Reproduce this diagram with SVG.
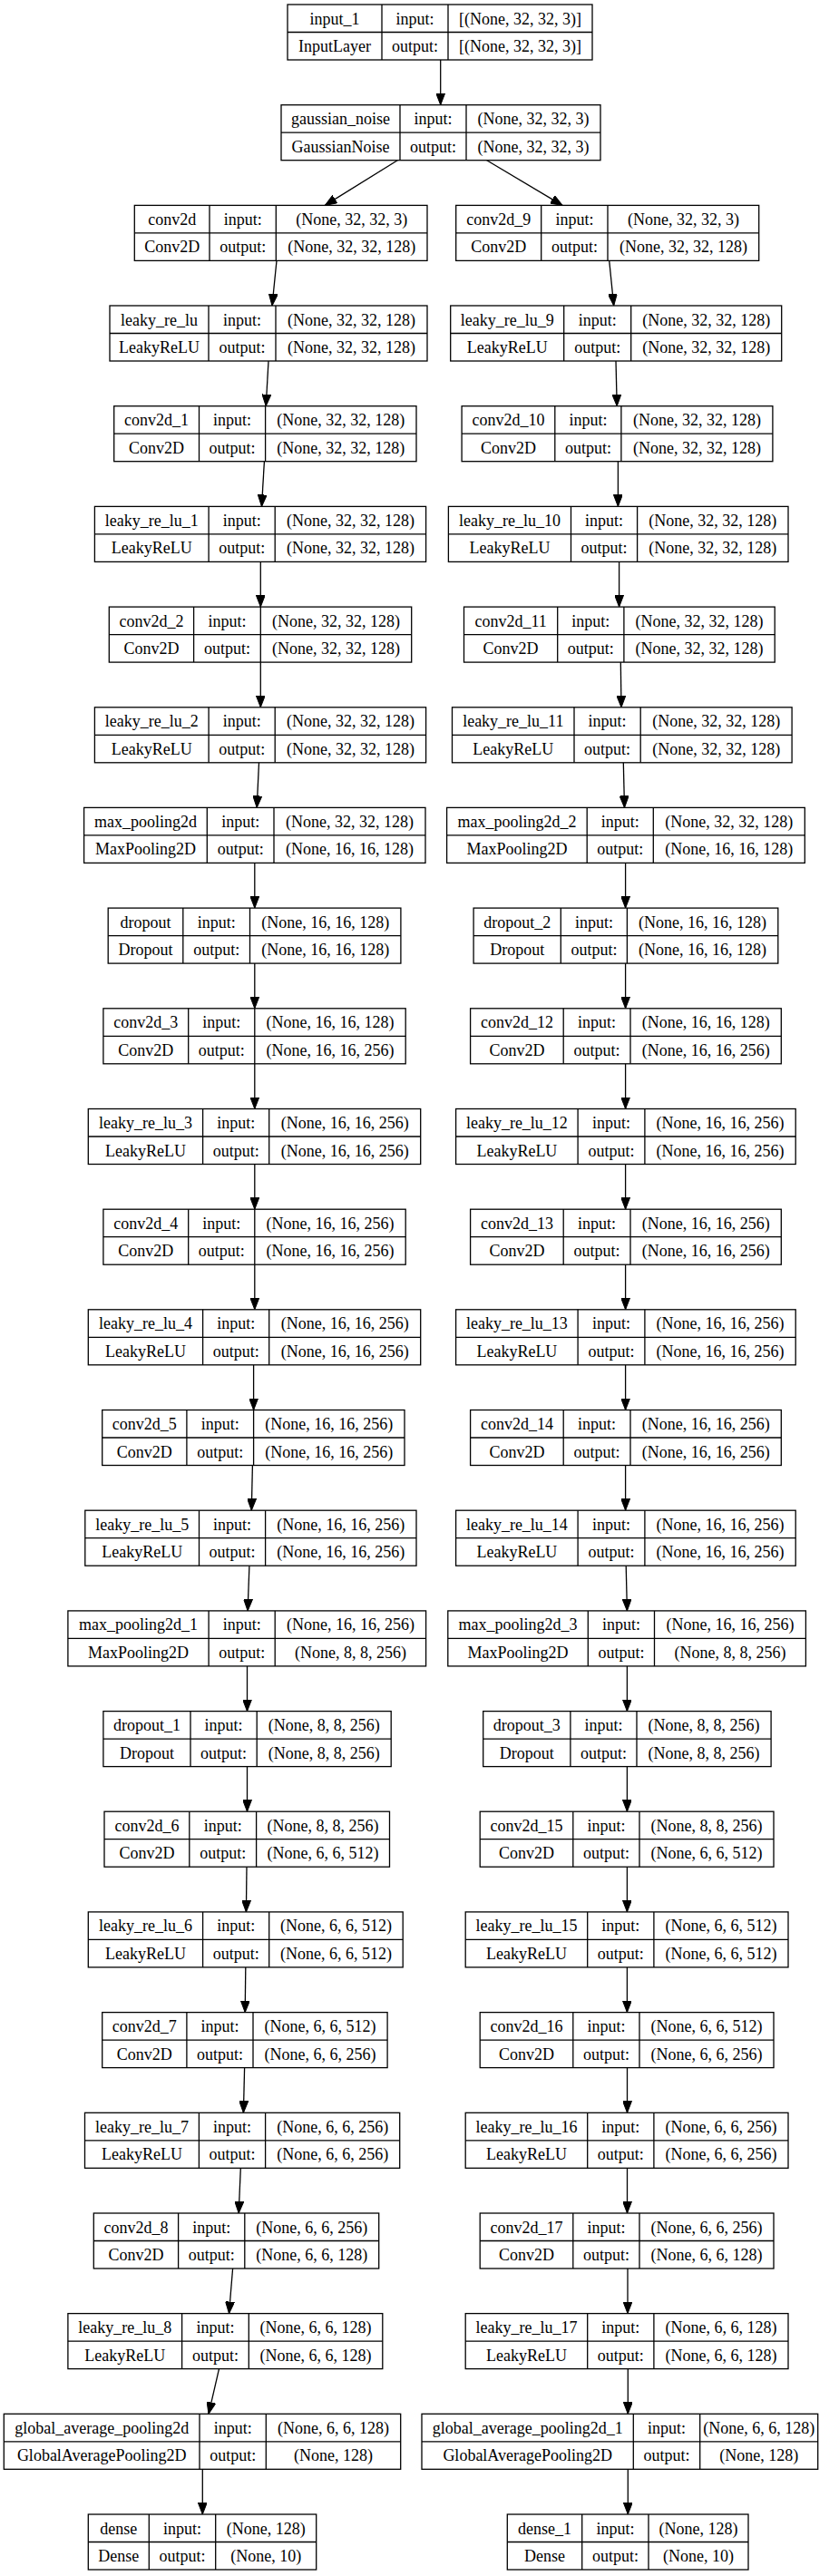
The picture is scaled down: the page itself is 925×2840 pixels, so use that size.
<svg xmlns="http://www.w3.org/2000/svg" width="925" height="2840" viewBox="0 0 925 2840">
<style>
.node rect{fill:#fff;stroke:#000;stroke-width:1.3}
.node path{fill:none;stroke:#000;stroke-width:1.3}
.node text{font-family:"Liberation Serif","Times New Roman",serif;font-size:18px;text-anchor:middle;fill:#000}
#edges path{fill:none;stroke:#000;stroke-width:1.3;marker-end:url(#arr)}
</style>
<defs>
<marker id="arr" markerUnits="userSpaceOnUse" markerWidth="13" markerHeight="10" viewBox="0 0 13 10" refX="13" refY="5" orient="auto"><path d="M0,0 L13,5 L0,10 z" fill="#000" stroke="#000" stroke-width="1"/></marker>
</defs>
<rect width="925" height="2840" fill="#fff"/>
<g id="edges">
<path d="M485.7 66 L485.7 115.7"/>
<path d="M438.3 176.7 L358.3 226.4"/>
<path d="M536.7 176.7 L620 226.4"/>
<path d="M305 287.4 L300 337"/>
<path d="M296 398 L293.2 447.7"/>
<path d="M291.4 508.7 L288.5 558.4"/>
<path d="M287.3 619.4 L287.3 669.1"/>
<path d="M287.3 730.1 L287.3 779.8"/>
<path d="M285.5 840.8 L283.2 890.4"/>
<path d="M280.8 951.4 L280.8 1001.1"/>
<path d="M280.8 1062.1 L280.8 1111.8"/>
<path d="M280.8 1172.8 L280.8 1222.5"/>
<path d="M280.8 1283.5 L280.8 1333.2"/>
<path d="M280.8 1394.2 L280.8 1443.8"/>
<path d="M279.6 1504.8 L279.6 1554.5"/>
<path d="M278.4 1615.5 L277.3 1665.2"/>
<path d="M274.9 1726.2 L273.1 1775.9"/>
<path d="M272.5 1836.9 L272.5 1886.6"/>
<path d="M272.5 1947.6 L272.5 1997.2"/>
<path d="M272 2058.2 L271.4 2107.9"/>
<path d="M270.8 2168.9 L270.2 2218.6"/>
<path d="M269.6 2279.6 L268.4 2329.3"/>
<path d="M265.3 2390.3 L263.2 2440"/>
<path d="M256.6 2501 L252.5 2550.6"/>
<path d="M241.5 2611.6 L230 2661.3"/>
<path d="M223.3 2722.3 L223.3 2772"/>
<path d="M671.7 287.4 L676.7 337"/>
<path d="M679 398 L680.2 447.7"/>
<path d="M681.4 508.7 L681.4 558.4"/>
<path d="M682.6 619.4 L682.6 669.1"/>
<path d="M684.3 730.1 L685 779.8"/>
<path d="M687.3 840.8 L688.5 890.4"/>
<path d="M689.6 951.4 L689.6 1001.1"/>
<path d="M689.6 1062.1 L689.6 1111.8"/>
<path d="M689.6 1172.8 L689.6 1222.5"/>
<path d="M689.6 1283.5 L689.6 1333.2"/>
<path d="M689.6 1394.2 L689.6 1443.8"/>
<path d="M689.6 1504.8 L689.6 1554.5"/>
<path d="M689.6 1615.5 L689.6 1665.2"/>
<path d="M690.2 1726.2 L691.4 1775.9"/>
<path d="M691.4 1836.9 L691.4 1886.6"/>
<path d="M691.4 1947.6 L691.4 1997.2"/>
<path d="M691.4 2058.2 L691.4 2107.9"/>
<path d="M691.4 2168.9 L691.4 2218.6"/>
<path d="M691.5 2279.6 L691.5 2329.3"/>
<path d="M691.5 2390.3 L691.5 2440"/>
<path d="M692 2501 L692 2550.6"/>
<path d="M692.3 2611.6 L692.3 2661.3"/>
<path d="M692.3 2722.3 L692.3 2772"/>
</g>

<g id="input_1" class="node"><rect x="317" y="5" width="336" height="61"/><path d="M317 35.5H653M421 5V66M494 5V66"/>
<text x="369" y="26.5">input_1</text><text x="457.5" y="26.5">input:</text><text x="573.5" y="26.5">[(None, 32, 32, 3)]</text>
<text x="369" y="57">InputLayer</text><text x="457.5" y="57">output:</text><text x="573.5" y="57">[(None, 32, 32, 3)]</text></g>

<g id="gaussian_noise" class="node"><rect x="310" y="115.7" width="352" height="61"/><path d="M310 146.2H662M441 115.7V176.7M514 115.7V176.7"/>
<text x="375.5" y="137.2">gaussian_noise</text><text x="477.5" y="137.2">input:</text><text x="588" y="137.2">(None, 32, 32, 3)</text>
<text x="375.5" y="167.7">GaussianNoise</text><text x="477.5" y="167.7">output:</text><text x="588" y="167.7">(None, 32, 32, 3)</text></g>

<g id="conv2d" class="node"><rect x="148.3" y="226.4" width="322.7" height="61"/><path d="M148.3 256.9H471M231 226.4V287.4M304.3 226.4V287.4"/>
<text x="189.7" y="247.9">conv2d</text><text x="267.7" y="247.9">input:</text><text x="387.7" y="247.9">(None, 32, 32, 3)</text>
<text x="189.7" y="278.4">Conv2D</text><text x="267.7" y="278.4">output:</text><text x="387.7" y="278.4">(None, 32, 32, 128)</text></g>

<g id="leaky_re_lu" class="node"><rect x="121" y="337" width="350" height="61"/><path d="M121 367.5H471M230 337V398M304 337V398"/>
<text x="175.5" y="358.5">leaky_re_lu</text><text x="267" y="358.5">input:</text><text x="387.5" y="358.5">(None, 32, 32, 128)</text>
<text x="175.5" y="389">LeakyReLU</text><text x="267" y="389">output:</text><text x="387.5" y="389">(None, 32, 32, 128)</text></g>

<g id="conv2d_1" class="node"><rect x="125.7" y="447.7" width="333.3" height="61"/><path d="M125.7 478.2H459M219.5 447.7V508.7M292.6 447.7V508.7"/>
<text x="172.6" y="469.2">conv2d_1</text><text x="256.1" y="469.2">input:</text><text x="375.8" y="469.2">(None, 32, 32, 128)</text>
<text x="172.6" y="499.7">Conv2D</text><text x="256.1" y="499.7">output:</text><text x="375.8" y="499.7">(None, 32, 32, 128)</text></g>

<g id="leaky_re_lu_1" class="node"><rect x="104.4" y="558.4" width="365.2" height="61"/><path d="M104.4 588.9H469.6M230.1 558.4V619.4M303.2 558.4V619.4"/>
<text x="167.3" y="579.9">leaky_re_lu_1</text><text x="266.7" y="579.9">input:</text><text x="386.4" y="579.9">(None, 32, 32, 128)</text>
<text x="167.3" y="610.4">LeakyReLU</text><text x="266.7" y="610.4">output:</text><text x="386.4" y="610.4">(None, 32, 32, 128)</text></g>

<g id="conv2d_2" class="node"><rect x="120.3" y="669.1" width="333.4" height="61"/><path d="M120.3 699.6H453.7M213.6 669.1V730.1M287.3 669.1V730.1"/>
<text x="167" y="690.6">conv2d_2</text><text x="250.5" y="690.6">input:</text><text x="370.5" y="690.6">(None, 32, 32, 128)</text>
<text x="167" y="721.1">Conv2D</text><text x="250.5" y="721.1">output:</text><text x="370.5" y="721.1">(None, 32, 32, 128)</text></g>

<g id="leaky_re_lu_2" class="node"><rect x="104.4" y="779.8" width="365.2" height="61"/><path d="M104.4 810.3H469.6M230.1 779.8V840.8M303.2 779.8V840.8"/>
<text x="167.3" y="801.3">leaky_re_lu_2</text><text x="266.7" y="801.3">input:</text><text x="386.4" y="801.3">(None, 32, 32, 128)</text>
<text x="167.3" y="831.8">LeakyReLU</text><text x="266.7" y="831.8">output:</text><text x="386.4" y="831.8">(None, 32, 32, 128)</text></g>

<g id="max_pooling2d" class="node"><rect x="92.6" y="890.4" width="376.4" height="61"/><path d="M92.6 920.9H469M228.3 890.4V951.4M302 890.4V951.4"/>
<text x="160.5" y="911.9">max_pooling2d</text><text x="265.2" y="911.9">input:</text><text x="385.5" y="911.9">(None, 32, 32, 128)</text>
<text x="160.5" y="942.4">MaxPooling2D</text><text x="265.2" y="942.4">output:</text><text x="385.5" y="942.4">(None, 16, 16, 128)</text></g>

<g id="dropout" class="node"><rect x="119.2" y="1001.1" width="322.7" height="61"/><path d="M119.2 1031.6H441.9M201.8 1001.1V1062.1M275.5 1001.1V1062.1"/>
<text x="160.5" y="1022.6">dropout</text><text x="238.7" y="1022.6">input:</text><text x="358.7" y="1022.6">(None, 16, 16, 128)</text>
<text x="160.5" y="1053.1">Dropout</text><text x="238.7" y="1053.1">output:</text><text x="358.7" y="1053.1">(None, 16, 16, 128)</text></g>

<g id="conv2d_3" class="node"><rect x="113.9" y="1111.8" width="333.3" height="61"/><path d="M113.9 1142.3H447.2M207.7 1111.8V1172.8M280.8 1111.8V1172.8"/>
<text x="160.8" y="1133.3">conv2d_3</text><text x="244.3" y="1133.3">input:</text><text x="364" y="1133.3">(None, 16, 16, 128)</text>
<text x="160.8" y="1163.8">Conv2D</text><text x="244.3" y="1163.8">output:</text><text x="364" y="1163.8">(None, 16, 16, 256)</text></g>

<g id="leaky_re_lu_3" class="node"><rect x="97.3" y="1222.5" width="366.4" height="61"/><path d="M97.3 1253H463.7M223.6 1222.5V1283.5M296.7 1222.5V1283.5"/>
<text x="160.5" y="1244">leaky_re_lu_3</text><text x="260.2" y="1244">input:</text><text x="380.2" y="1244">(None, 16, 16, 256)</text>
<text x="160.5" y="1274.5">LeakyReLU</text><text x="260.2" y="1274.5">output:</text><text x="380.2" y="1274.5">(None, 16, 16, 256)</text></g>

<g id="conv2d_4" class="node"><rect x="113.9" y="1333.2" width="333.3" height="61"/><path d="M113.9 1363.7H447.2M207.7 1333.2V1394.2M280.8 1333.2V1394.2"/>
<text x="160.8" y="1354.7">conv2d_4</text><text x="244.3" y="1354.7">input:</text><text x="364" y="1354.7">(None, 16, 16, 256)</text>
<text x="160.8" y="1385.2">Conv2D</text><text x="244.3" y="1385.2">output:</text><text x="364" y="1385.2">(None, 16, 16, 256)</text></g>

<g id="leaky_re_lu_4" class="node"><rect x="97.3" y="1443.8" width="366.4" height="61"/><path d="M97.3 1474.3H463.7M223.6 1443.8V1504.8M296.7 1443.8V1504.8"/>
<text x="160.5" y="1465.3">leaky_re_lu_4</text><text x="260.2" y="1465.3">input:</text><text x="380.2" y="1465.3">(None, 16, 16, 256)</text>
<text x="160.5" y="1495.8">LeakyReLU</text><text x="260.2" y="1495.8">output:</text><text x="380.2" y="1495.8">(None, 16, 16, 256)</text></g>

<g id="conv2d_5" class="node"><rect x="112.7" y="1554.5" width="333.3" height="61"/><path d="M112.7 1585H446M205.9 1554.5V1615.5M279.6 1554.5V1615.5"/>
<text x="159.3" y="1576">conv2d_5</text><text x="242.8" y="1576">input:</text><text x="362.8" y="1576">(None, 16, 16, 256)</text>
<text x="159.3" y="1606.5">Conv2D</text><text x="242.8" y="1606.5">output:</text><text x="362.8" y="1606.5">(None, 16, 16, 256)</text></g>

<g id="leaky_re_lu_5" class="node"><rect x="93.8" y="1665.2" width="365.2" height="61"/><path d="M93.8 1695.7H459M219.5 1665.2V1726.2M292.6 1665.2V1726.2"/>
<text x="156.7" y="1686.7">leaky_re_lu_5</text><text x="256.1" y="1686.7">input:</text><text x="375.8" y="1686.7">(None, 16, 16, 256)</text>
<text x="156.7" y="1717.2">LeakyReLU</text><text x="256.1" y="1717.2">output:</text><text x="375.8" y="1717.2">(None, 16, 16, 256)</text></g>

<g id="max_pooling2d_1" class="node"><rect x="74.9" y="1775.9" width="394.7" height="61"/><path d="M74.9 1806.4H469.6M230.1 1775.9V1836.9M303.2 1775.9V1836.9"/>
<text x="152.5" y="1797.4">max_pooling2d_1</text><text x="266.7" y="1797.4">input:</text><text x="386.4" y="1797.4">(None, 16, 16, 256)</text>
<text x="152.5" y="1827.9">MaxPooling2D</text><text x="266.7" y="1827.9">output:</text><text x="386.4" y="1827.9">(None, 8, 8, 256)</text></g>

<g id="dropout_1" class="node"><rect x="113.9" y="1886.6" width="317.3" height="61"/><path d="M113.9 1917.1H431.2M210 1886.6V1947.6M283.2 1886.6V1947.6"/>
<text x="162" y="1908.1">dropout_1</text><text x="246.6" y="1908.1">input:</text><text x="357.2" y="1908.1">(None, 8, 8, 256)</text>
<text x="162" y="1938.6">Dropout</text><text x="246.6" y="1938.6">output:</text><text x="357.2" y="1938.6">(None, 8, 8, 256)</text></g>

<g id="conv2d_6" class="node"><rect x="115" y="1997.2" width="314.5" height="61"/><path d="M115 2027.7H429.5M208.8 1997.2V2058.2M282.6 1997.2V2058.2"/>
<text x="161.9" y="2018.7">conv2d_6</text><text x="245.7" y="2018.7">input:</text><text x="356" y="2018.7">(None, 8, 8, 256)</text>
<text x="161.9" y="2049.2">Conv2D</text><text x="245.7" y="2049.2">output:</text><text x="356" y="2049.2">(None, 6, 6, 512)</text></g>

<g id="leaky_re_lu_6" class="node"><rect x="97.3" y="2107.9" width="346.9" height="61"/><path d="M97.3 2138.4H444.2M223.6 2107.9V2168.9M296.7 2107.9V2168.9"/>
<text x="160.5" y="2129.4">leaky_re_lu_6</text><text x="260.2" y="2129.4">input:</text><text x="370.5" y="2129.4">(None, 6, 6, 512)</text>
<text x="160.5" y="2159.9">LeakyReLU</text><text x="260.2" y="2159.9">output:</text><text x="370.5" y="2159.9">(None, 6, 6, 512)</text></g>

<g id="conv2d_7" class="node"><rect x="112.7" y="2218.6" width="314.4" height="61"/><path d="M112.7 2249.1H427.1M205.9 2218.6V2279.6M279 2218.6V2279.6"/>
<text x="159.3" y="2240.1">conv2d_7</text><text x="242.5" y="2240.1">input:</text><text x="353.1" y="2240.1">(None, 6, 6, 512)</text>
<text x="159.3" y="2270.6">Conv2D</text><text x="242.5" y="2270.6">output:</text><text x="353.1" y="2270.6">(None, 6, 6, 256)</text></g>

<g id="leaky_re_lu_7" class="node"><rect x="93.5" y="2329.3" width="347.2" height="61"/><path d="M93.5 2359.8H440.7M219.4 2329.3V2390.3M292.6 2329.3V2390.3"/>
<text x="156.5" y="2350.8">leaky_re_lu_7</text><text x="256" y="2350.8">input:</text><text x="366.7" y="2350.8">(None, 6, 6, 256)</text>
<text x="156.5" y="2381.3">LeakyReLU</text><text x="256" y="2381.3">output:</text><text x="366.7" y="2381.3">(None, 6, 6, 256)</text></g>

<g id="conv2d_8" class="node"><rect x="103.3" y="2440" width="314.4" height="61"/><path d="M103.3 2470.5H417.7M196.6 2440V2501M269.8 2440V2501"/>
<text x="150" y="2461.5">conv2d_8</text><text x="233.2" y="2461.5">input:</text><text x="343.8" y="2461.5">(None, 6, 6, 256)</text>
<text x="150" y="2492">Conv2D</text><text x="233.2" y="2492">output:</text><text x="343.8" y="2492">(None, 6, 6, 128)</text></g>

<g id="leaky_re_lu_8" class="node"><rect x="74.9" y="2550.6" width="346.9" height="61"/><path d="M74.9 2581.1H421.8M200.6 2550.6V2611.6M274.3 2550.6V2611.6"/>
<text x="137.8" y="2572.1">leaky_re_lu_8</text><text x="237.5" y="2572.1">input:</text><text x="348.1" y="2572.1">(None, 6, 6, 128)</text>
<text x="137.8" y="2602.6">LeakyReLU</text><text x="237.5" y="2602.6">output:</text><text x="348.1" y="2602.6">(None, 6, 6, 128)</text></g>

<g id="global_average_pooling2d" class="node"><rect x="4.3" y="2661.3" width="437.4" height="61"/><path d="M4.3 2691.8H441.7M220 2661.3V2722.3M293.3 2661.3V2722.3"/>
<text x="112.2" y="2682.8">global_average_pooling2d</text><text x="256.7" y="2682.8">input:</text><text x="367.5" y="2682.8">(None, 6, 6, 128)</text>
<text x="112.2" y="2713.3">GlobalAveragePooling2D</text><text x="256.7" y="2713.3">output:</text><text x="367.5" y="2713.3">(None, 128)</text></g>

<g id="dense" class="node"><rect x="97.3" y="2772" width="251.4" height="61"/><path d="M97.3 2802.5H348.7M164.3 2772V2833M237.7 2772V2833"/>
<text x="130.8" y="2793.5">dense</text><text x="201" y="2793.5">input:</text><text x="293.2" y="2793.5">(None, 128)</text>
<text x="130.8" y="2824">Dense</text><text x="201" y="2824">output:</text><text x="293.2" y="2824">(None, 10)</text></g>

<g id="conv2d_9" class="node"><rect x="502.7" y="226.4" width="334" height="61"/><path d="M502.7 256.9H836.7M596.7 226.4V287.4M670 226.4V287.4"/>
<text x="549.7" y="247.9">conv2d_9</text><text x="633.4" y="247.9">input:</text><text x="753.4" y="247.9">(None, 32, 32, 3)</text>
<text x="549.7" y="278.4">Conv2D</text><text x="633.4" y="278.4">output:</text><text x="753.4" y="278.4">(None, 32, 32, 128)</text></g>

<g id="leaky_re_lu_9" class="node"><rect x="496.7" y="337" width="365" height="61"/><path d="M496.7 367.5H861.7M621.7 337V398M695.7 337V398"/>
<text x="559.2" y="358.5">leaky_re_lu_9</text><text x="658.7" y="358.5">input:</text><text x="778.7" y="358.5">(None, 32, 32, 128)</text>
<text x="559.2" y="389">LeakyReLU</text><text x="658.7" y="389">output:</text><text x="778.7" y="389">(None, 32, 32, 128)</text></g>

<g id="conv2d_10" class="node"><rect x="509.1" y="447.7" width="342.8" height="61"/><path d="M509.1 478.2H851.9M611.8 447.7V508.7M684.9 447.7V508.7"/>
<text x="560.5" y="469.2">conv2d_10</text><text x="648.4" y="469.2">input:</text><text x="768.4" y="469.2">(None, 32, 32, 128)</text>
<text x="560.5" y="499.7">Conv2D</text><text x="648.4" y="499.7">output:</text><text x="768.4" y="499.7">(None, 32, 32, 128)</text></g>

<g id="leaky_re_lu_10" class="node"><rect x="494.4" y="558.4" width="374.6" height="61"/><path d="M494.4 588.9H869M629.5 558.4V619.4M702.6 558.4V619.4"/>
<text x="562" y="579.9">leaky_re_lu_10</text><text x="666.1" y="579.9">input:</text><text x="785.8" y="579.9">(None, 32, 32, 128)</text>
<text x="562" y="610.4">LeakyReLU</text><text x="666.1" y="610.4">output:</text><text x="785.8" y="610.4">(None, 32, 32, 128)</text></g>

<g id="conv2d_11" class="node"><rect x="511.5" y="669.1" width="342.7" height="61"/><path d="M511.5 699.6H854.2M614.7 669.1V730.1M687.9 669.1V730.1"/>
<text x="563.1" y="690.6">conv2d_11</text><text x="651.3" y="690.6">input:</text><text x="771.1" y="690.6">(None, 32, 32, 128)</text>
<text x="563.1" y="721.1">Conv2D</text><text x="651.3" y="721.1">output:</text><text x="771.1" y="721.1">(None, 32, 32, 128)</text></g>

<g id="leaky_re_lu_11" class="node"><rect x="498.5" y="779.8" width="374.6" height="61"/><path d="M498.5 810.3H873.1M633 779.8V840.8M706.2 779.8V840.8"/>
<text x="565.8" y="801.3">leaky_re_lu_11</text><text x="669.6" y="801.3">input:</text><text x="789.7" y="801.3">(None, 32, 32, 128)</text>
<text x="565.8" y="831.8">LeakyReLU</text><text x="669.6" y="831.8">output:</text><text x="789.7" y="831.8">(None, 32, 32, 128)</text></g>

<g id="max_pooling2d_2" class="node"><rect x="492.6" y="890.4" width="394.7" height="61"/><path d="M492.6 920.9H887.3M647.2 890.4V951.4M720.3 890.4V951.4"/>
<text x="569.9" y="911.9">max_pooling2d_2</text><text x="683.8" y="911.9">input:</text><text x="803.8" y="911.9">(None, 32, 32, 128)</text>
<text x="569.9" y="942.4">MaxPooling2D</text><text x="683.8" y="942.4">output:</text><text x="803.8" y="942.4">(None, 16, 16, 128)</text></g>

<g id="dropout_2" class="node"><rect x="522.1" y="1001.1" width="335.7" height="61"/><path d="M522.1 1031.6H857.8M618.3 1001.1V1062.1M691.4 1001.1V1062.1"/>
<text x="570.2" y="1022.6">dropout_2</text><text x="654.9" y="1022.6">input:</text><text x="774.6" y="1022.6">(None, 16, 16, 128)</text>
<text x="570.2" y="1053.1">Dropout</text><text x="654.9" y="1053.1">output:</text><text x="774.6" y="1053.1">(None, 16, 16, 128)</text></g>

<g id="conv2d_12" class="node"><rect x="518.6" y="1111.8" width="342.7" height="61"/><path d="M518.6 1142.3H861.3M621.2 1111.8V1172.8M695 1111.8V1172.8"/>
<text x="569.9" y="1133.3">conv2d_12</text><text x="658.1" y="1133.3">input:</text><text x="778.2" y="1133.3">(None, 16, 16, 128)</text>
<text x="569.9" y="1163.8">Conv2D</text><text x="658.1" y="1163.8">output:</text><text x="778.2" y="1163.8">(None, 16, 16, 256)</text></g>

<g id="leaky_re_lu_12" class="node"><rect x="502.6" y="1222.5" width="374.6" height="61"/><path d="M502.6 1253H877.2M637.1 1222.5V1283.5M710.9 1222.5V1283.5"/>
<text x="569.9" y="1244">leaky_re_lu_12</text><text x="674" y="1244">input:</text><text x="794.1" y="1244">(None, 16, 16, 256)</text>
<text x="569.9" y="1274.5">LeakyReLU</text><text x="674" y="1274.5">output:</text><text x="794.1" y="1274.5">(None, 16, 16, 256)</text></g>

<g id="conv2d_13" class="node"><rect x="518.6" y="1333.2" width="342.7" height="61"/><path d="M518.6 1363.7H861.3M621.2 1333.2V1394.2M695 1333.2V1394.2"/>
<text x="569.9" y="1354.7">conv2d_13</text><text x="658.1" y="1354.7">input:</text><text x="778.2" y="1354.7">(None, 16, 16, 256)</text>
<text x="569.9" y="1385.2">Conv2D</text><text x="658.1" y="1385.2">output:</text><text x="778.2" y="1385.2">(None, 16, 16, 256)</text></g>

<g id="leaky_re_lu_13" class="node"><rect x="502.6" y="1443.8" width="374.6" height="61"/><path d="M502.6 1474.3H877.2M637.1 1443.8V1504.8M710.9 1443.8V1504.8"/>
<text x="569.9" y="1465.3">leaky_re_lu_13</text><text x="674" y="1465.3">input:</text><text x="794.1" y="1465.3">(None, 16, 16, 256)</text>
<text x="569.9" y="1495.8">LeakyReLU</text><text x="674" y="1495.8">output:</text><text x="794.1" y="1495.8">(None, 16, 16, 256)</text></g>

<g id="conv2d_14" class="node"><rect x="518.6" y="1554.5" width="342.7" height="61"/><path d="M518.6 1585H861.3M621.2 1554.5V1615.5M695 1554.5V1615.5"/>
<text x="569.9" y="1576">conv2d_14</text><text x="658.1" y="1576">input:</text><text x="778.2" y="1576">(None, 16, 16, 256)</text>
<text x="569.9" y="1606.5">Conv2D</text><text x="658.1" y="1606.5">output:</text><text x="778.2" y="1606.5">(None, 16, 16, 256)</text></g>

<g id="leaky_re_lu_14" class="node"><rect x="502.6" y="1665.2" width="374.6" height="61"/><path d="M502.6 1695.7H877.2M637.1 1665.2V1726.2M710.9 1665.2V1726.2"/>
<text x="569.9" y="1686.7">leaky_re_lu_14</text><text x="674" y="1686.7">input:</text><text x="794.1" y="1686.7">(None, 16, 16, 256)</text>
<text x="569.9" y="1717.2">LeakyReLU</text><text x="674" y="1717.2">output:</text><text x="794.1" y="1717.2">(None, 16, 16, 256)</text></g>

<g id="max_pooling2d_3" class="node"><rect x="493.8" y="1775.9" width="394.6" height="61"/><path d="M493.8 1806.4H888.4M648.3 1775.9V1836.9M721.5 1775.9V1836.9"/>
<text x="571.1" y="1797.4">max_pooling2d_3</text><text x="684.9" y="1797.4">input:</text><text x="805" y="1797.4">(None, 16, 16, 256)</text>
<text x="571.1" y="1827.9">MaxPooling2D</text><text x="684.9" y="1827.9">output:</text><text x="805" y="1827.9">(None, 8, 8, 256)</text></g>

<g id="dropout_3" class="node"><rect x="532.7" y="1886.6" width="317.4" height="61"/><path d="M532.7 1917.1H850.1M628.9 1886.6V1947.6M702 1886.6V1947.6"/>
<text x="580.8" y="1908.1">dropout_3</text><text x="665.5" y="1908.1">input:</text><text x="776.1" y="1908.1">(None, 8, 8, 256)</text>
<text x="580.8" y="1938.6">Dropout</text><text x="665.5" y="1938.6">output:</text><text x="776.1" y="1938.6">(None, 8, 8, 256)</text></g>

<g id="conv2d_15" class="node"><rect x="529.2" y="1997.2" width="323.8" height="61"/><path d="M529.2 2027.7H853M631.8 1997.2V2058.2M705 1997.2V2058.2"/>
<text x="580.5" y="2018.7">conv2d_15</text><text x="668.4" y="2018.7">input:</text><text x="779" y="2018.7">(None, 8, 8, 256)</text>
<text x="580.5" y="2049.2">Conv2D</text><text x="668.4" y="2049.2">output:</text><text x="779" y="2049.2">(None, 6, 6, 512)</text></g>

<g id="leaky_re_lu_15" class="node"><rect x="513.2" y="2107.9" width="355.8" height="61"/><path d="M513.2 2138.4H869M647.7 2107.9V2168.9M720.9 2107.9V2168.9"/>
<text x="580.5" y="2129.4">leaky_re_lu_15</text><text x="684.3" y="2129.4">input:</text><text x="795" y="2129.4">(None, 6, 6, 512)</text>
<text x="580.5" y="2159.9">LeakyReLU</text><text x="684.3" y="2159.9">output:</text><text x="795" y="2159.9">(None, 6, 6, 512)</text></g>

<g id="conv2d_16" class="node"><rect x="529.2" y="2218.6" width="323.8" height="61"/><path d="M529.2 2249.1H853M631.8 2218.6V2279.6M705 2218.6V2279.6"/>
<text x="580.5" y="2240.1">conv2d_16</text><text x="668.4" y="2240.1">input:</text><text x="779" y="2240.1">(None, 6, 6, 512)</text>
<text x="580.5" y="2270.6">Conv2D</text><text x="668.4" y="2270.6">output:</text><text x="779" y="2270.6">(None, 6, 6, 256)</text></g>

<g id="leaky_re_lu_16" class="node"><rect x="513.2" y="2329.3" width="355.8" height="61"/><path d="M513.2 2359.8H869M647.7 2329.3V2390.3M720.9 2329.3V2390.3"/>
<text x="580.5" y="2350.8">leaky_re_lu_16</text><text x="684.3" y="2350.8">input:</text><text x="795" y="2350.8">(None, 6, 6, 256)</text>
<text x="580.5" y="2381.3">LeakyReLU</text><text x="684.3" y="2381.3">output:</text><text x="795" y="2381.3">(None, 6, 6, 256)</text></g>

<g id="conv2d_17" class="node"><rect x="529.2" y="2440" width="323.8" height="61"/><path d="M529.2 2470.5H853M631.8 2440V2501M705 2440V2501"/>
<text x="580.5" y="2461.5">conv2d_17</text><text x="668.4" y="2461.5">input:</text><text x="779" y="2461.5">(None, 6, 6, 256)</text>
<text x="580.5" y="2492">Conv2D</text><text x="668.4" y="2492">output:</text><text x="779" y="2492">(None, 6, 6, 128)</text></g>

<g id="leaky_re_lu_17" class="node"><rect x="513.2" y="2550.6" width="355.8" height="61"/><path d="M513.2 2581.1H869M647.7 2550.6V2611.6M720.9 2550.6V2611.6"/>
<text x="580.5" y="2572.1">leaky_re_lu_17</text><text x="684.3" y="2572.1">input:</text><text x="795" y="2572.1">(None, 6, 6, 128)</text>
<text x="580.5" y="2602.6">LeakyReLU</text><text x="684.3" y="2602.6">output:</text><text x="795" y="2602.6">(None, 6, 6, 128)</text></g>

<g id="global_average_pooling2d_1" class="node"><rect x="465" y="2661.3" width="436.7" height="61"/><path d="M465 2691.8H901.7M698.3 2661.3V2722.3M771.7 2661.3V2722.3"/>
<text x="581.7" y="2682.8">global_average_pooling2d_1</text><text x="735" y="2682.8">input:</text><text x="836.7" y="2682.8">(None, 6, 6, 128)</text>
<text x="581.7" y="2713.3">GlobalAveragePooling2D</text><text x="735" y="2713.3">output:</text><text x="836.7" y="2713.3">(None, 128)</text></g>

<g id="dense_1" class="node"><rect x="559.3" y="2772" width="265.7" height="61"/><path d="M559.3 2802.5H825M641.7 2772V2833M715 2772V2833"/>
<text x="600.5" y="2793.5">dense_1</text><text x="678.4" y="2793.5">input:</text><text x="770" y="2793.5">(None, 128)</text>
<text x="600.5" y="2824">Dense</text><text x="678.4" y="2824">output:</text><text x="770" y="2824">(None, 10)</text></g>
</svg>
